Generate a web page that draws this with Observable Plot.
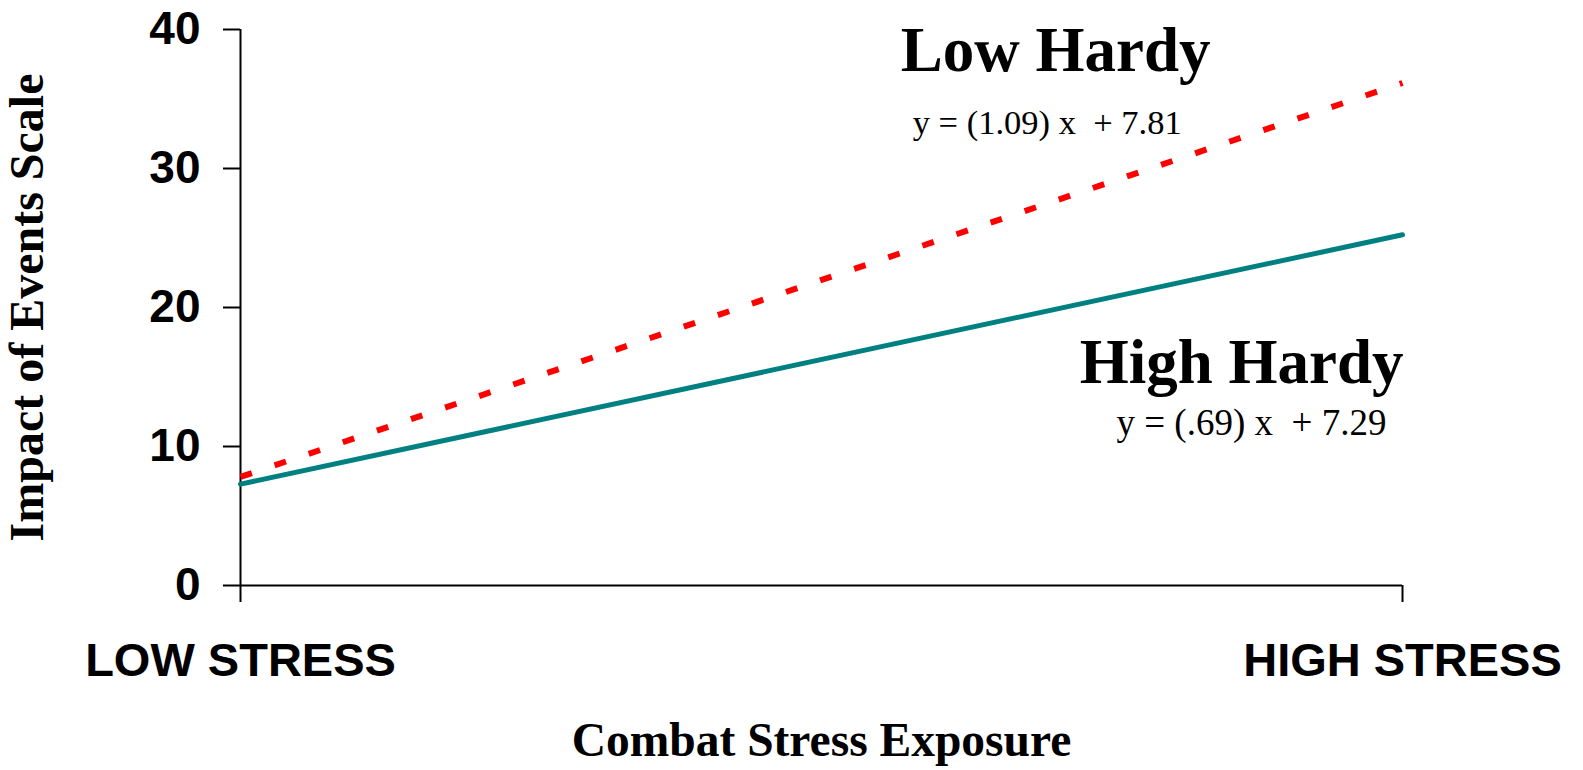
<!DOCTYPE html>
<html>
<head>
<meta charset="utf-8">
<script src="https://cdn.jsdelivr.net/npm/d3@7"></script>
<script src="https://cdn.jsdelivr.net/npm/@observablehq/plot@0.6"></script>
<style>
  html, body { margin: 0; padding: 0; background: #ffffff; }
  #chart svg { display: block; }
</style>
</head>
<body>
<div id="chart"></div>
<script>
// Data
const stressLabels = ["LOW STRESS", "HIGH STRESS"];
const stressX = [0, 26];
const lowHardy = [7.81, 36.15];   // y = (1.09) x + 7.81
const highHardy = [7.29, 25.23];  // y = (.69) x + 7.29
const yTicks = [0, 10, 20, 30, 40];

const seriesNames = ["Low Hardy", "High Hardy"];
const equations = ["y = (1.09) x \u00a0+ 7.81", "y = (.69) x \u00a0+ 7.29"];
// annotation anchors in data space (x: stress units, y: scale units)
const nameAnchorX = [18.24, 22.4];
const nameAnchorY = [37.05, 14.6];
const eqAnchorX = [18.05, 22.62];
const eqAnchorY = [32.5, 10.8];

const lowData = stressX.map((x, i) => ({x, y: lowHardy[i]}));
const highData = stressX.map((x, i) => ({x, y: highHardy[i]}));
const nameData = seriesNames.map((t, i) => ({t, x: nameAnchorX[i], y: nameAnchorY[i]}));
const eqData = equations.map((t, i) => ({t, x: eqAnchorX[i], y: eqAnchorY[i]}));

const SERIF = "'Liberation Serif', 'Times New Roman', serif";
const SANS = "'Liberation Sans', Arial, sans-serif";

const chart = Plot.plot({
  width: 1583,
  height: 770,
  marginLeft: 240,
  marginRight: 181,
  marginTop: 29,
  marginBottom: 185,
  style: {background: "#ffffff", color: "#000000", overflow: "visible"},
  x: {domain: [0, 26]},
  y: {domain: [0, 40]},
  marks: [
    Plot.axisY({
      ticks: yTicks, tickSize: 17, tickPadding: 23, label: null,
      fontSize: 46, fontWeight: "bold", fontFamily: SANS, strokeWidth: 2
    }),
    Plot.axisX({
      ticks: stressX, tickFormat: (d) => stressLabels[stressX.indexOf(d)],
      tickSize: 17, tickPadding: 40, label: null,
      fontSize: 47, fontWeight: "bold", fontFamily: SANS, strokeWidth: 2
    }),
    Plot.ruleX([0], {stroke: "#000", strokeWidth: 2}),
    Plot.ruleY([0], {stroke: "#000", strokeWidth: 2}),
    Plot.line(lowData, {x: "x", y: "y", stroke: "#ff0000", strokeWidth: 6, strokeDasharray: "12,24", strokeLinecap: "butt"}),
    Plot.line(highData, {x: "x", y: "y", stroke: "#008080", strokeWidth: 5, strokeLinecap: "round"}),
    Plot.text(nameData, {x: "x", y: "y", text: "t", textAnchor: "middle", lineAnchor: "bottom",
      fontSize: 63, fontWeight: "bold", fontFamily: SERIF, fill: "#000"}),
    Plot.text(eqData.slice(0, 1), {x: "x", y: "y", text: "t", textAnchor: "middle", lineAnchor: "bottom",
      fontSize: 34.5, fontFamily: SERIF, fill: "#000"}),
    Plot.text(eqData.slice(1), {x: "x", y: "y", text: "t", textAnchor: "middle", lineAnchor: "bottom",
      fontSize: 37, fontFamily: SERIF, fill: "#000"}),
    Plot.text(["Impact of Events Scale"], {frameAnchor: "left", rotate: -90, dx: -198, lineAnchor: "bottom",
      textAnchor: "middle", fontSize: 48, fontWeight: "bold", fontFamily: SERIF, fill: "#000"}),
    Plot.text(["Combat Stress Exposure"], {frameAnchor: "bottom", dy: 170, lineAnchor: "bottom",
      textAnchor: "middle", fontSize: 47.5, fontWeight: "bold", fontFamily: SERIF, fill: "#000"})
  ]
});
document.getElementById("chart").appendChild(chart);
</script>
</body>
</html>
